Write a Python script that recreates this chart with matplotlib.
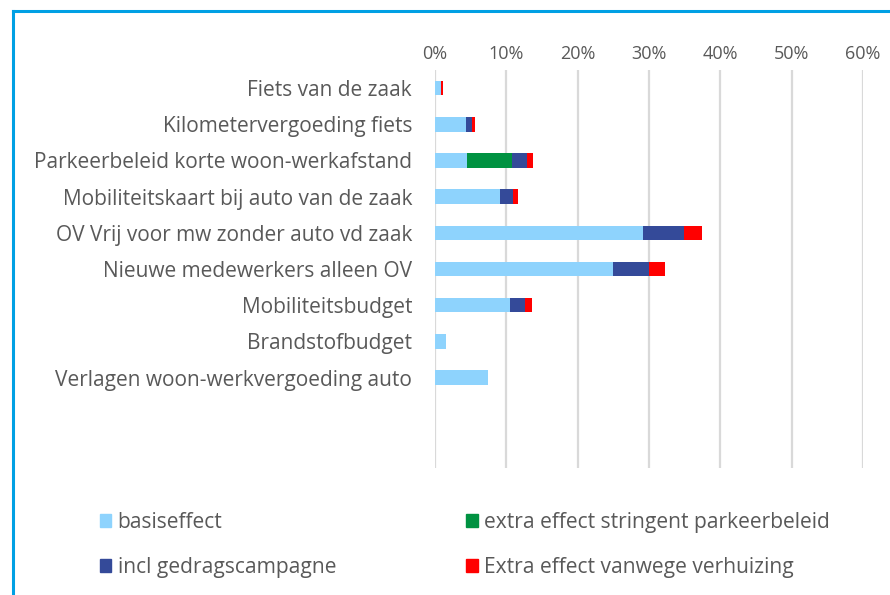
import matplotlib
matplotlib.use("Agg")
import matplotlib.pyplot as plt
from matplotlib.lines import Line2D
from matplotlib.patches import Patch
import numpy as np

categories = [
    "Fiets van de zaak",
    "Kilometervergoeding fiets",
    "Parkeerbeleid korte woon-werkafstand",
    "Mobiliteitskaart bij auto van de zaak",
    "OV Vrij voor mw zonder auto vd zaak",
    "Nieuwe medewerkers alleen OV",
    "Mobiliteitsbudget",
    "Brandstofbudget",
    "Verlagen woon-werkvergoeding auto",
    "",
    "",
]
basiseffect = [0.8, 4.35, 4.5, 9.15, 29.1, 25.0, 10.55, 1.55, 7.45, 0, 0]
extra_parkeer = [0, 0, 6.25, 0, 0, 0, 0, 0, 0, 0, 0]
gedragscampagne = [0.1, 0.85, 2.1, 1.8, 5.85, 5.05, 2.1, 0, 0, 0, 0]
verhuizing = [0.2, 0.35, 0.95, 0.75, 2.5, 2.15, 1.0, 0, 0, 0, 0]
xticks = [0, 10, 20, 30, 40, 50, 60]
xticklabels = ["0%", "10%", "20%", "30%", "40%", "50%", "60%"]

series_names = ["basiseffect", "extra effect stringent parkeerbeleid",
                "incl gedragscampagne", "Extra effect vanwege verhuizing"]
colors = ["#8ED3FD", "#009241", "#344A99", "#FF0000"]

plt.rcParams['font.family'] = ['Open Sans', 'DejaVu Sans']
txt = "#595959"

fig = plt.figure(figsize=(8.9, 5.95), dpi=100)
ax = fig.add_axes([435/890, 1-468/595, (863-435)/890, (468-70)/595])

y = np.arange(len(categories))
b = np.array(basiseffect)
g = np.array(extra_parkeer)
c = np.array(gedragscampagne)
r = np.array(verhuizing)
h = 0.4
ax.barh(y, b, height=h, color=colors[0], zorder=3)
ax.barh(y, g, left=b, height=h, color=colors[1], zorder=3)
ax.barh(y, c, left=b+g, height=h, color=colors[2], zorder=3)
ax.barh(y, r, left=b+g+c, height=h, color=colors[3], zorder=3)

ax.set_ylim(len(categories)-0.5, -0.5)
ax.set_xlim(0, 60)
ax.set_xticks(xticks)
ax.set_xticklabels(xticklabels, fontsize=13, color=txt)
ax.xaxis.tick_top()
ax.set_yticks(y)
ax.set_yticklabels(categories, fontsize=15, color=txt)
ax.tick_params(axis='both', length=0)
ax.tick_params(axis='y', pad=16.5)
ax.tick_params(axis='x', pad=5)
for s in ax.spines.values():
    s.set_visible(False)
ax.grid(axis='x', color="#D9D9D9", linewidth=1.6, zorder=0)
ax.set_axisbelow(True)

handles = [Patch(color=colors[0]), Patch(color=colors[2]),
           Patch(color=colors[1]), Patch(color=colors[3])]
labels = [series_names[0], series_names[2], series_names[1], series_names[3]]
leg = fig.legend(handles, labels, ncol=2, loc='upper left',
                 bbox_to_anchor=(81/890, 1-493/595), frameon=False,
                 fontsize=15.1, handlelength=0.55, handleheight=0.6,
                 handletextpad=0.3, columnspacing=6.2, labelspacing=1.15,
                 labelcolor=txt)

lc = "#00A0E4"
fig.add_artist(Line2D([13/890, 13/890], [0, 1-11/595], color=lc, linewidth=2.2,
                      transform=fig.transFigure))
fig.add_artist(Line2D([13/890, 1], [1-11/595, 1-11/595], color=lc, linewidth=2.2,
                      transform=fig.transFigure))

fig.savefig("out.png", dpi=100)
